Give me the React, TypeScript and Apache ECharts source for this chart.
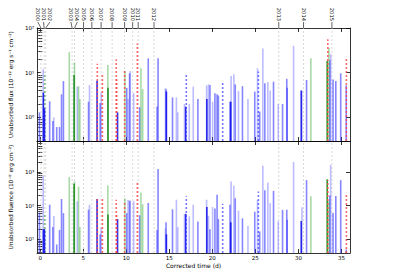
import React, { useEffect, useRef } from 'react';
import * as echarts from 'echarts';

// ---- data ----
const eventTime = [
  -0.1, 0.34, 0.36, 0.49, 0.52, 1.09, 1.46, 1.57, 1.91, 2.24, 2.47, 2.69, 3.37, 3.93, 3.97, 4.3, 4.45, 4.6,
  5.61, 5.72, 6.6, 6.63, 6.96, 7.08, 7.22, 7.85, 7.87, 8.83, 8.87, 8.98, 9.8, 9.84, 10.05, 10.2, 10.38, 10.45,
  10.85, 11.28, 11.55, 11.7, 11.9, 12.55, 13.58, 13.69, 14.55, 14.62, 14.66, 15.37, 15.82, 15.98, 16.76, 16.9,
  16.97, 17.32, 17.78, 18.32, 19.33, 19.36, 19.55, 19.72, 20.03, 20.3, 20.55, 20.7, 21.2, 22.05, 22.14, 22.18,
  22.5, 22.66, 23.04, 23.5, 24.14, 24.93, 25.25, 25.35, 25.5, 25.87, 26.1, 26.45, 26.72, 27.11, 27.66, 28.16,
  28.65, 28.7, 29.44, 30.33, 30.42, 30.95, 31.45, 33.35, 33.42, 33.55, 33.65, 33.75, 34.03, 34.35, 34.92, 35.56, 35.58,
];
const eventFlux = [
  1.3, 12, 3.6, 1.6, 10, 2.3, 0.83, 1.0, 0.61, 0.61, 3.3, 6.5, 29, 8.9, 17, 4.9, 5.0, 2.6,
  2.25, 5.3, 6.6, 15.8, 2.1, 3.6, 9.4, 14.9, 4.6, 20, 7.5, 1.3, 12, 11, 4.6, 2.6, 9.7, 11,
  3.5, 45, 1.7, 12.6, 4.3, 21, 1.75, 21, 4.5, 4.3, 3.8, 2.8, 2.8, 1.3, 2.0, 1.75,
  9.3, 2.0, 4.9, 2.6, 5.2, 2.6, 5.5, 5.3, 2.25, 3.5, 3.3, 3.1, 6.1, 2.25, 2.25, 8.5,
  9.3, 5.5, 3.9, 5.0, 2.6, 3.8, 12.6, 10.6, 1.35, 35, 5.8, 6.2, 4.0, 6.3, 2.0, 2.0,
  7.3, 4.6, 40, 4.0, 4.0, 6.9, 21, 18.4, 56, 36, 19, 26, 7.1, 6.5, 9.7, 5.2, 21,
];
const eventFluence = [
  62, 790, 20, 20, 60, 107, 23, 49, 7, 19, 158, 60, 710, 450, 520, 135, 370, 23,
  76, 107, 158, 160, 14, 22, 158, 400, 55, 150, 60, 40, 120, 166, 60, 148, 140, 140,
  135, 530, 52, 245, 110, 120, 19, 1230, 21, 32, 14, 78, 150, 23, 57, 57,
  190, 48, 107, 34, 150, 91, 50, 20, 91, 82, 210, 40, 113, 107, 32, 525,
  390, 166, 71, 42, 25, 66, 148, 265, 17, 1530, 285, 490, 120, 275, 35, 75,
  76, 38, 2000, 35, 90, 575, 190, 610, 580, 140, 200, 1620, 60, 195, 575, 5, 225,
];
const eventKind = [
  'b2', 'b1', 'b3', 'b3', 'gd', 'b2', 'b2', 'b1', 'b2', 'b2', 'b2', 'b2', 'g1', 'g2', 'g1', 'b1', 'g1', 'g1',
  'b2', 'b1', 'b3', 'rd', 'b2', 'b1', 'rd', 'g1', 'g2', 'rd', 'rd', 'b3', 'rd', 'g1', 'b2', 'b1', 'b2', 'b1',
  'b1', 'rd', 'b2', 'g1', 'g1', 'b2', 'b2', 'b2', 'b1', 'b2', 'b3', 'b2', 'b1', 'b1', 'b1', 'b3',
  'bd', 'b1', 'b1', 'b2', 'b1', 'b3', 'b1', 'b2', 'b1', 'b2', 'b2', 'b2', 'bd', 'b2', 'b3', 'b1',
  'b1', 'b2', 'b1', 'b2', 'b1', 'b2', 'b1', 'bd', 'b2', 'b1', 'b2', 'b1', 'b1', 'b2', 'b1', 'b2',
  'b2', 'b2', 'b1', 'b3', 'b1', 'b2', 'g1', 'g2', 'rd', 'g1', 'b2', 'b1', 'b2', 'b2', 'b2', 'b2', 'rd',
];

const years = ['2000', '2001', '2002', '2003', '2004', '2005', '2006', '2007', '2008', '2009', '2010', '2011', '2012', '2013', '2014', '2015'];
const yearLineTime = [0.08, 0.45, 0.63, 3.7, 3.98, 5.03, 5.99, 7.07, 8.35, 9.8, 10.74, 11.38, 13.22, 27.72, 30.6, 33.9];
const yearLabelTime = [-0.29, 0.38, 1.12, 3.56, 4.31, 5.03, 5.99, 7.07, 8.35, 9.8, 10.74, 11.38, 13.22, 27.72, 30.6, 33.9];

const xTicks = [0, 5, 10, 15, 20, 25, 30, 35];
const fluxMajor = [1, 10, 100];
const fluxMinor = [0.3, 0.4, 0.5, 0.6, 0.7, 0.8, 0.9, 2, 3, 4, 5, 6, 7, 8, 9, 20, 30, 40, 50, 60, 70, 80, 90];
const fluenceMajor = [10, 100, 1000];
const fluenceMinor = [4, 5, 6, 7, 8, 9, 20, 30, 40, 50, 60, 70, 80, 90, 200, 300, 400, 500, 600, 700, 800, 900, 2000, 3000, 4000, 5000, 6000, 7000, 8000];

const X_MIN = -0.37;
const X_MAX = 36.0;
const FLUX_MIN = 0.298;
const FLUX_MAX = 100;
const FLUENCE_MIN = 3.9;
const FLUENCE_MAX = 8400;

const kindOrder = ['b1', 'b2', 'g1', 'gd', 'g2', 'b3', 'bd', 'rd'];
const kindStyle: Record<string, { color: string; dash?: number[] }> = {
  b1: { color: 'rgba(70,70,255,0.36)' },
  b2: { color: 'rgba(60,60,255,0.62)' },
  b3: { color: 'rgba(20,20,235,0.9)' },
  g1: { color: 'rgba(60,170,60,0.45)' },
  g2: { color: 'rgba(10,130,10,0.85)' },
  gd: { color: 'rgba(60,170,60,0.6)', dash: [2, 2] },
  bd: { color: 'rgba(60,60,255,0.7)', dash: [2, 2] },
  rd: { color: 'rgba(255,70,70,0.8)', dash: [2, 2] },
};

const SUP: Record<string, string> = { '-1': '⁻¹', '0': '⁰', '1': '¹', '2': '²', '3': '³', '4': '⁴' };
const powLabel = (v: number) => '10' + SUP[String(Math.round(Math.log10(v)))];

const FONT = 'DejaVu Sans';
const BAR_W = 1.6;

function buildOption() {
  const order: number[] = [];
  kindOrder.forEach((k) => eventKind.forEach((kk, i) => { if (kk === k) order.push(i); }));

  const spikes = (xi: number, yi: number, vals: number[], yMin: number) => ({
    type: 'custom',
    xAxisIndex: xi,
    yAxisIndex: yi,
    silent: true,
    clip: false,
    z: 3,
    encode: { x: 0, y: 1 },
    data: order.map((i) => [eventTime[i], vals[i], kindOrder.indexOf(eventKind[i])]),
    renderItem: (_p: any, api: any) => {
      const t = api.value(0);
      const v = api.value(1);
      const s = kindStyle[kindOrder[api.value(2)]];
      const top = api.coord([t, v]);
      const bot = api.coord([t, yMin]);
      return {
        type: 'line',
        shape: { x1: top[0], y1: bot[1], x2: top[0], y2: top[1] },
        style: { stroke: s.color, lineWidth: BAR_W, lineDash: s.dash },
      };
    },
  });

  const yearLines = (xi: number, yi: number, yMin: number, yMax: number) => ({
    type: 'custom',
    xAxisIndex: xi,
    yAxisIndex: yi,
    silent: true,
    clip: false,
    z: 1,
    encode: { x: 0, y: 1 },
    data: yearLineTime.map((t) => [t, yMax]),
    renderItem: (_p: any, api: any) => {
      const t = api.value(0);
      const a = api.coord([t, yMin]);
      const b = api.coord([t, yMax]);
      return {
        type: 'line',
        shape: { x1: a[0], y1: a[1], x2: b[0], y2: b[1] },
        style: { stroke: '#c8c8c8', lineWidth: 0.7, lineDash: [2, 2] },
      };
    },
  });

  const connectors = {
    type: 'custom',
    xAxisIndex: 0,
    yAxisIndex: 0,
    silent: true,
    clip: false,
    z: 5,
    encode: { x: 0, y: 1 },
    data: yearLineTime.map((t, i) => [t, FLUX_MAX, yearLabelTime[i]]),
    renderItem: (_p: any, api: any) => {
      const a = api.coord([api.value(0), FLUX_MAX]);
      const b = api.coord([api.value(2), FLUX_MAX]);
      return {
        type: 'line',
        shape: { x1: a[0], y1: a[1], x2: b[0], y2: a[1] - 6 },
        style: { stroke: '#222', lineWidth: 0.7 },
      };
    },
  };

  const axisLineStyle = { color: '#000', width: 0.8 };
  const xAxisBase = (grid: number, position: string, labels: boolean, name?: string) => ({
    type: 'value',
    gridIndex: grid,
    position,
    min: X_MIN,
    max: X_MAX,
    splitLine: { show: false },
    axisLine: { show: true, onZero: false, lineStyle: axisLineStyle },
    axisTick: { show: true, inside: true, length: 4, customValues: xTicks, lineStyle: axisLineStyle },
    axisLabel: labels
      ? { show: true, customValues: xTicks, fontSize: 5.5, lineHeight: 6, margin: 1.5, color: '#000', fontFamily: FONT }
      : { show: false },
    name,
    nameLocation: 'middle',
    nameGap: 12,
    nameTextStyle: { fontSize: 6, lineHeight: 6, verticalAlign: 'middle', color: '#000', fontFamily: FONT },
  });

  const yAxisSet = (grid: number, yMin: number, yMax: number, major: number[], minor: number[], name: string) => [
    {
      type: 'log', logBase: 10, gridIndex: grid, position: 'left', min: yMin, max: yMax,
      splitLine: { show: false },
      axisLine: { show: true, onZero: false, lineStyle: axisLineStyle },
      axisTick: { show: true, inside: true, length: 4, customValues: major, lineStyle: axisLineStyle },
      axisLabel: { show: true, customValues: major, formatter: powLabel, fontSize: 5.5, margin: 3, color: '#000', fontFamily: FONT },
      name, nameLocation: 'middle', nameRotate: 90, nameGap: 17,
      nameTextStyle: { fontSize: 5.8, color: '#000', fontFamily: FONT },
    },
    {
      type: 'log', logBase: 10, gridIndex: grid, position: 'left', min: yMin, max: yMax,
      splitLine: { show: false },
      axisLine: { show: false },
      axisTick: { show: true, inside: true, length: 2, customValues: minor, lineStyle: axisLineStyle },
      axisLabel: { show: false },
    },
    {
      type: 'log', logBase: 10, gridIndex: grid, position: 'right', min: yMin, max: yMax,
      splitLine: { show: false },
      axisLine: { show: true, onZero: false, lineStyle: axisLineStyle },
      axisTick: { show: true, inside: true, length: 4, customValues: major, lineStyle: axisLineStyle },
      axisLabel: { show: false },
    },
    {
      type: 'log', logBase: 10, gridIndex: grid, position: 'right', min: yMin, max: yMax,
      splitLine: { show: false },
      axisLine: { show: false },
      axisTick: { show: true, inside: true, length: 2, customValues: minor, lineStyle: axisLineStyle },
      axisLabel: { show: false },
    },
  ];

  const yearAxis = {
    type: 'value',
    gridIndex: 0,
    position: 'top',
    min: X_MIN,
    max: X_MAX,
    splitLine: { show: false },
    axisLine: { show: false },
    axisTick: { show: false },
    axisLabel: {
      show: true,
      customValues: yearLabelTime,
      rotate: 90,
      margin: 7,
      fontSize: 5.2,
      color: '#000',
      fontFamily: FONT,
      verticalAlign: 'middle',
      formatter: (v: number) => {
        const i = yearLabelTime.findIndex((t) => Math.abs(t - v) < 1e-6);
        return i >= 0 ? years[i] : '';
      },
    },
  };

  return {
    animation: false,
    backgroundColor: '#fff',
    textStyle: { fontFamily: FONT, color: '#000' },
    grid: [
      { left: 26, top: 28, width: 324, height: 113 },
      { left: 26, top: 141, width: 324, height: 112 },
    ],
    xAxis: [
      xAxisBase(0, 'bottom', false),
      xAxisBase(0, 'top', false),
      yearAxis,
      xAxisBase(1, 'bottom', true, 'Corrected time (d)'),
      xAxisBase(1, 'top', false),
    ],
    yAxis: [
      ...yAxisSet(0, FLUX_MIN, FLUX_MAX, fluxMajor, fluxMinor, 'Unabsorbed flux (10⁻¹² erg s⁻¹ cm⁻²)'),
      ...yAxisSet(1, FLUENCE_MIN, FLUENCE_MAX, fluenceMajor, fluenceMinor, 'Unabsorbed fluence (10⁻⁸ erg cm⁻²)'),
    ],
    series: [
      yearLines(0, 0, FLUX_MIN, FLUX_MAX),
      yearLines(3, 4, FLUENCE_MIN, FLUENCE_MAX),
      spikes(0, 0, eventFlux, FLUX_MIN),
      spikes(3, 4, eventFluence, FLUENCE_MIN),
      connectors,
    ],
  };
}

export default function App() {
  const ref = useRef<HTMLDivElement>(null);
  useEffect(() => {
    if (!ref.current) return;
    const chart = echarts.init(ref.current, undefined, { renderer: 'svg' });
    chart.setOption(buildOption() as any);
    return () => chart.dispose();
  }, []);
  return <div ref={ref} style={{ position: 'absolute', left: 0, top: 0, width: 393, height: 270 }} />;
}
